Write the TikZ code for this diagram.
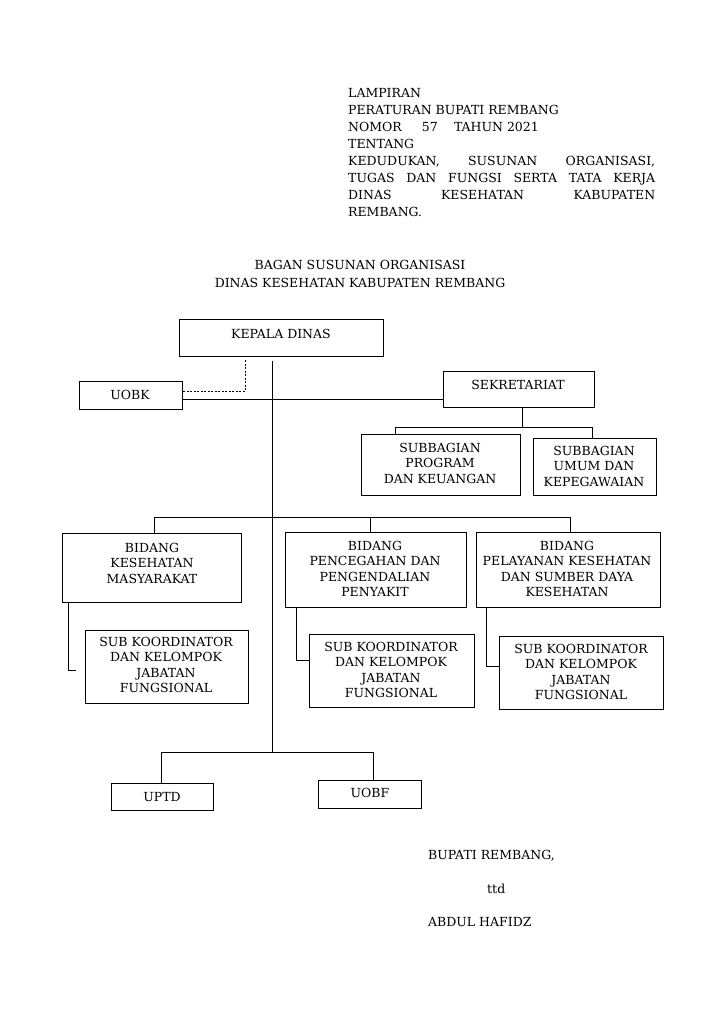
\documentclass[tikz,border=0pt]{standalone}
\usepackage{fontspec}
\setmainfont{DejaVu Serif}
\begin{document}
\begin{tikzpicture}[x=1pt,y=-1pt,
  box/.style={draw,line width=0.8pt,inner sep=0pt},
  tx/.style={font=\fontsize{12.5}{15.5}\selectfont,align=center,inner sep=0pt},
  ln/.style={line width=0.8pt},
  hd/.style={font=\fontsize{12.5}{15}\selectfont,anchor=base west,inner sep=0pt}]
\useasboundingbox (0,0) rectangle (725,1024);
% header
\node[hd] (h1) at (348,98) {LAMPIRAN};
\node[hd] (h2) at (348,115) {PERATURAN BUPATI REMBANG};
\node[hd] (h3) at (348,132) {NOMOR\hspace{1.6em}57\hspace{1.3em}TAHUN 2021};
\node[hd] (h4) at (348,149) {TENTANG};
\node[hd] (h5) at (348,166) {\hbox to 307pt{KEDUDUKAN,\hfill SUSUNAN\hfill ORGANISASI,}};
\node[hd] (h6) at (348,183) {\hbox to 307pt{TUGAS\hfill DAN\hfill FUNGSI\hfill SERTA\hfill TATA\hfill KERJA}};
\node[hd] (h7) at (348,200) {\hbox to 307pt{DINAS\hfill KESEHATAN\hfill KABUPATEN}};
\node[hd] (h8) at (348,217) {REMBANG.};
\node[tx] (t1) at (360,265) {BAGAN SUSUNAN ORGANISASI};
\node[tx] (t2) at (360,283) {DINAS KESEHATAN KABUPATEN REMBANG};
% boxes
\draw[box] (179,319) rectangle (383,356); \node[tx] (kd) at (281,334) {KEPALA DINAS};
\draw[box] (79,381) rectangle (182,409); \node[tx] (uobk) at (130,395) {UOBK};
\draw[box] (443,371) rectangle (594,407); \node[tx] (sek) at (518,385) {SEKRETARIAT};
\draw[box] (361,434) rectangle (520,495); \node[tx] (sp) at (440,463) {SUBBAGIAN\\PROGRAM\\DAN KEUANGAN};
\draw[box] (533,438) rectangle (656,495); \node[tx] (su) at (594,466) {SUBBAGIAN\\UMUM DAN\\KEPEGAWAIAN};
\draw[box] (62,533) rectangle (241,602); \node[tx] (b1) at (152,563) {BIDANG\\KESEHATAN\\MASYARAKAT};
\draw[box] (285,532) rectangle (466,607); \node[tx] (b2) at (375,569) {BIDANG\\PENCEGAHAN DAN\\PENGENDALIAN\\PENYAKIT};
\draw[box] (476,532) rectangle (660,607); \node[tx] (b3) at (567,569) {BIDANG\\PELAYANAN KESEHATAN\\DAN SUMBER DAYA\\KESEHATAN};
\draw[box] (85,630) rectangle (248,703); \node[tx] (s1) at (166,665) {SUB KOORDINATOR\\DAN KELOMPOK\\JABATAN\\FUNGSIONAL};
\draw[box] (309,634) rectangle (474,707); \node[tx] (s2) at (391,670) {SUB KOORDINATOR\\DAN KELOMPOK\\JABATAN\\FUNGSIONAL};
\draw[box] (499,636) rectangle (663,709); \node[tx] (s3) at (581,672) {SUB KOORDINATOR\\DAN KELOMPOK\\JABATAN\\FUNGSIONAL};
\draw[box] (111,783) rectangle (213,810); \node[tx] (uptd) at (162,797) {UPTD};
\draw[box] (318,780) rectangle (421,808); \node[tx] (uobf) at (370,793) {UOBF};
% connectors
\draw[ln] (272,361) -- (272,752);
\draw[ln,dashed,dash pattern=on 2pt off 1.5pt] (245,360) -- (245,391) -- (182,391);
\draw[ln] (182,399) -- (443,399);
\draw[ln] (522,407) -- (522,427);
\draw[ln] (395,434) -- (395,427) -- (592,427) -- (592,438);
\draw[ln] (154,533) -- (154,517) -- (570,517) -- (570,532);
\draw[ln] (370,517) -- (370,532);
\draw[ln] (68,603) -- (68,670) -- (76,670);
\draw[ln] (296,607) -- (296,660) -- (309,660);
\draw[ln] (486,607) -- (486,666) -- (499,666);
\draw[ln] (161,783) -- (161,752) -- (373,752) -- (373,780);
% signature
\node[hd] (bp) at (428,859) {BUPATI REMBANG,};
\node[hd] (ttd) at (487,893) {ttd};
\node[hd] (ah) at (428,926) {ABDUL HAFIDZ};
\end{tikzpicture}
\end{document}
